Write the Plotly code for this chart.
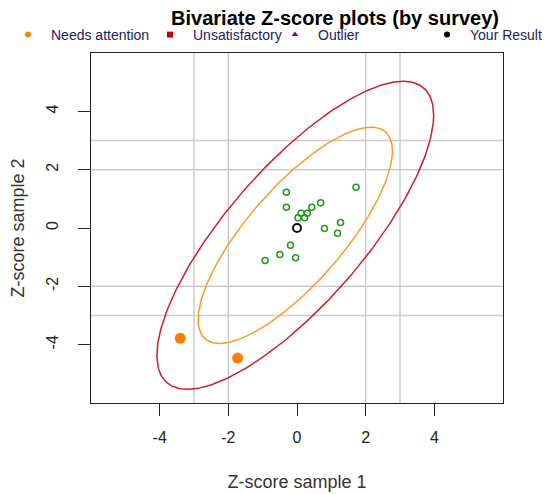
import numpy as np
import plotly.graph_objects as go

# ---- data ----
ok_x = [1.72, -0.31, -0.31, 0.43, 0.69, 0.12, 0.30, 0.03, 0.22, 1.27, 0.80, 1.18, -0.19, -0.50, -0.04, -0.93]
ok_y = [1.40, 1.23, 0.71, 0.71, 0.87, 0.51, 0.51, 0.35, 0.35, 0.19, -0.02, -0.18, -0.59, -0.91, -1.02, -1.11]
attn_x = [-3.40, -1.73]
attn_y = [-3.78, -4.46]
your_x = [0.0]
your_y = [0.0]

legend_names = ["Needs attention", "Unsatisfactory", "Outlier", "Your Result"]
legend_colors = ["#ff8000", "#cc0000", "#8b008b", "#000000"]
legend_symbols = ["circle", "square", "triangle-up", "circle"]
legend_marker_px = [28, 170, 295, 447]   # marker centres in the page

# ellipse parameters (centre, sd ratio, correlation, half-widths in x)
ell_center = (-0.05, -0.25)
ell_sx = 1.0
ell_sy = 1.31
ell_r = 0.78
ell_k = [2.83, 4.03]
ell_colors = ["#ff9a26", "#cc1f2a"]

grid_vals = [-3, -2, 2, 3]
tick_vals = [-4, -2, 0, 2, 4]
tick_text = ["-4", "-2", "0", "2", "4"]

OFF = 8  # page body margin
PW, PH = 550, 494
W, H = PW - OFF, PH - OFF
L, R, T, B = 91 - OFF, 47, 53 - OFF, 91
pw, ph = W - L - R, H - T - B
FONT = "Liberation Sans, Arial"

fig = go.Figure()

t = np.linspace(0, 2 * np.pi, 400)
for k, c in zip(ell_k, ell_colors):
    ex = ell_center[0] + k * ell_sx * np.cos(t)
    ey = ell_center[1] + k * ell_sy * (ell_r * np.cos(t) + np.sqrt(1 - ell_r**2) * np.sin(t))
    fig.add_trace(go.Scatter(x=ex, y=ey, mode="lines", line=dict(color=c, width=1.5),
                             showlegend=False, hoverinfo="skip"))

fig.add_trace(go.Scatter(x=ok_x, y=ok_y, mode="markers", showlegend=False,
                         marker=dict(symbol="circle-open", size=6, color="#1f9a1f", line=dict(width=1.5))))
fig.add_trace(go.Scatter(x=attn_x, y=attn_y, mode="markers", showlegend=False,
                         marker=dict(symbol="circle", size=11, color="#ff8000")))
fig.add_trace(go.Scatter(x=your_x, y=your_y, mode="markers", showlegend=False,
                         marker=dict(symbol="circle-open", size=8, color="#111111", line=dict(width=2))))

legends = {}
for i, (n, c, s, mp) in enumerate(zip(legend_names, legend_colors, legend_symbols, legend_marker_px)):
    lname = "legend" if i == 0 else f"legend{i+1}"
    fig.add_trace(go.Scatter(x=[None], y=[None], mode="markers", name=n, legend=lname,
                             marker=dict(symbol=s, size=6, color=c)))
    left = mp - 23 - OFF
    legends[lname] = dict(x=(left - L) / pw, y=(ph + T - (35 - OFF)) / ph,
                          xanchor="left", yanchor="middle", orientation="h", itemwidth=36,
                          bgcolor="rgba(0,0,0,0)", borderwidth=0,
                          font=dict(family=FONT, size=14, color="#1c1c5a"))

for g in grid_vals:
    fig.add_shape(type="line", xref="x", yref="paper", x0=g, x1=g, y0=0, y1=1,
                  line=dict(color="#cccccc", width=1.5), layer="below")
    fig.add_shape(type="line", xref="paper", yref="y", x0=0, x1=1, y0=g, y1=g,
                  line=dict(color="#cccccc", width=1.5), layer="below")

axis_common = dict(range=[-6, 6], showgrid=False, zeroline=False, showline=True, mirror=True,
                   linecolor="#222222", linewidth=1, ticks="outside", ticklen=12, tickwidth=1,
                   tickcolor="#222222", tickvals=tick_vals, ticktext=tick_text,
                   tickfont=dict(family=FONT, size=16, color="#222222"))

fig.update_layout(
    width=W, height=H,
    margin=dict(l=L, r=R, t=T, b=B, autoexpand=False),
    plot_bgcolor="white", paper_bgcolor="white",
    title=dict(text="<b>Bivariate Z-score plots (by survey)</b>", xref="container", yref="container",
               x=(335 - OFF) / W, xanchor="center", y=1 - (18 - OFF) / H, yanchor="middle",
               font=dict(family=FONT, size=20, color="#000000")),
    xaxis=dict(**axis_common, ticklabelstandoff=8,
               title=dict(text="Z-score sample 1", standoff=30,
                          font=dict(family=FONT, size=18, color="#333333"))),
    yaxis=dict(**axis_common, tickangle=-90, ticklabelstandoff=14,
               title=dict(text="Z-score sample 2", standoff=22,
                          font=dict(family=FONT, size=18, color="#333333"))),
    **legends,
)

fig.write_html("out.html")
